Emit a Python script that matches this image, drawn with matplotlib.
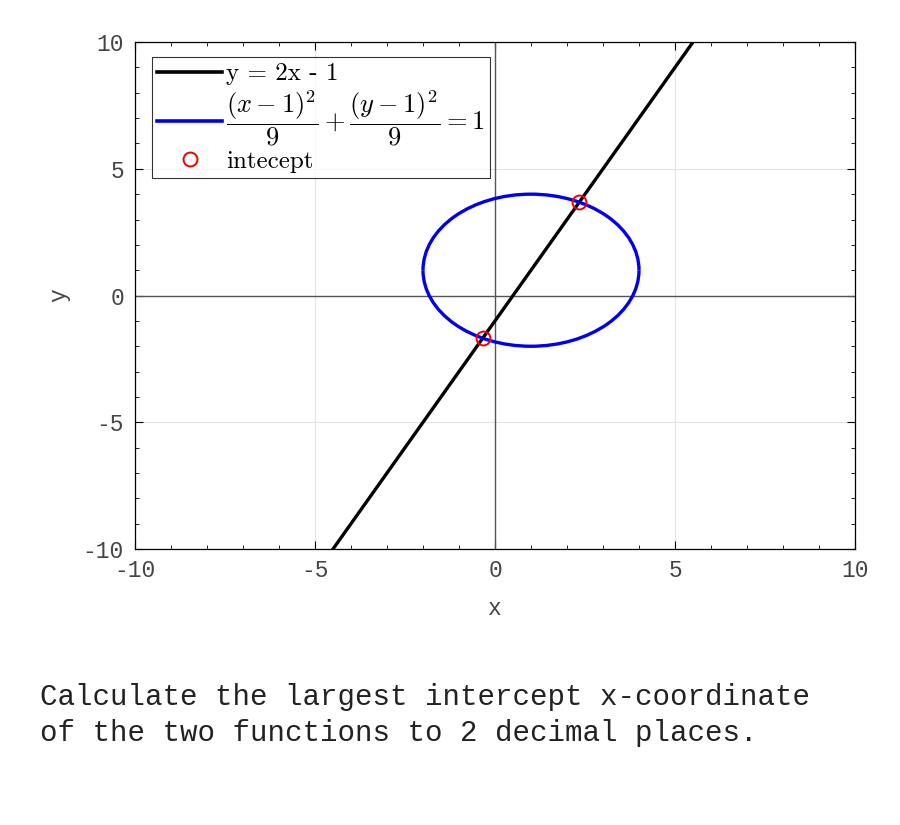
import matplotlib

matplotlib.use("Agg")
import matplotlib.pyplot as plt
from matplotlib.lines import Line2D
from matplotlib.patches import Arc
from matplotlib.ticker import MultipleLocator

# straight line y = 2x - 1, endpoints where it leaves the plot
line_x = [-4.5, 5.5]
line_y = [-10.0, 10.0]

# circle (x-1)^2/9 + (y-1)^2/9 = 1
circle_center = (1.0, 1.0)
circle_radius = 3.0
circle_halves = [(0, 180), (180, 360)]

# intersection points
intercept_x = [-0.34, 2.34]
intercept_y = [-1.68, 3.68]

x_ticks = [-10, -5, 0, 5, 10]
y_ticks = [-10, -5, 0, 5, 10]

question = "Calculate the largest intercept x-coordinate\nof the two functions to 2 decimal places."

plt.rcParams["mathtext.fontset"] = "cm"
plt.rcParams["axes.unicode_minus"] = False
MONO = ["Liberation Mono", "DejaVu Sans Mono"]
TXT = "#444444"

fig = plt.figure(figsize=(9, 8.25), dpi=100)
ax = fig.add_axes([0.15, 0.3345, 0.80, 0.6145])

ax.grid(True, color="#e3e3e3", linewidth=0.8)
ax.set_axisbelow(True)
ax.axhline(0, color="#555555", linewidth=1.0, zorder=1)
ax.axvline(0, color="#555555", linewidth=1.0, zorder=1)

ax.plot(line_x, line_y, color="black", linewidth=2.4, zorder=3)
for t1, t2 in circle_halves:
    ax.add_patch(Arc(circle_center, 2 * circle_radius, 2 * circle_radius,
                     theta1=t1, theta2=t2, color="#0000ee", linewidth=2.4, zorder=3))
ax.plot(intercept_x, intercept_y, linestyle="none", marker="o", markersize=10,
        markerfacecolor="none", markeredgecolor="#ee0000", markeredgewidth=1.4, zorder=4)

ax.set_xlim(-10, 10)
ax.set_ylim(-10, 10)
ax.set_xticks(x_ticks)
ax.set_yticks(y_ticks)
ax.xaxis.set_minor_locator(MultipleLocator(1))
ax.yaxis.set_minor_locator(MultipleLocator(1))
ax.tick_params(which="both", direction="in", top=True, right=True, color="black")
ax.tick_params(which="major", length=6, labelsize=16.5, labelcolor=TXT)
ax.tick_params(axis="x", which="major", pad=7)
ax.tick_params(axis="y", which="major", pad=8)
ax.tick_params(which="minor", length=3)
for lab in ax.get_xticklabels() + ax.get_yticklabels():
    lab.set_family(MONO)
for sp in ax.spines.values():
    sp.set_linewidth(0.9)

ax.set_xlabel("x", family=MONO, fontsize=16.5, color=TXT, labelpad=11)
ax.set_ylabel("y", family=MONO, fontsize=16.5, color=TXT, labelpad=9)

handles = [
    Line2D([], [], color="black", linewidth=2.6),
    Line2D([], [], color="#0000ee", linewidth=2.6),
    Line2D([], [], linestyle="none", marker="o", markersize=10,
           markerfacecolor="none", markeredgecolor="#ee0000", markeredgewidth=1.4),
]
labels = [
    "y = 2x - 1",
    r"$\dfrac{(x-1)^2}{9}+\dfrac{(y-1)^2}{9}=1$",
    "intecept",
]
leg = ax.legend(handles, labels, loc="upper left", bbox_to_anchor=(0.023, 0.97),
                prop={"family": "cmr10", "size": 18}, frameon=True, fancybox=False,
                edgecolor="black", borderpad=0.22, labelspacing=0.1, handlelength=2.6,
                handletextpad=0.15, borderaxespad=0.0)
leg.get_texts()[1].set_fontsize(19)
leg.get_frame().set_linewidth(0.8)

fig.text(40 / 900, 1 - 715 / 825, question, family=MONO, fontsize=21,
         color="#222222", ha="left", va="center", linespacing=1.32)

fig.savefig("out.png", dpi=100)
